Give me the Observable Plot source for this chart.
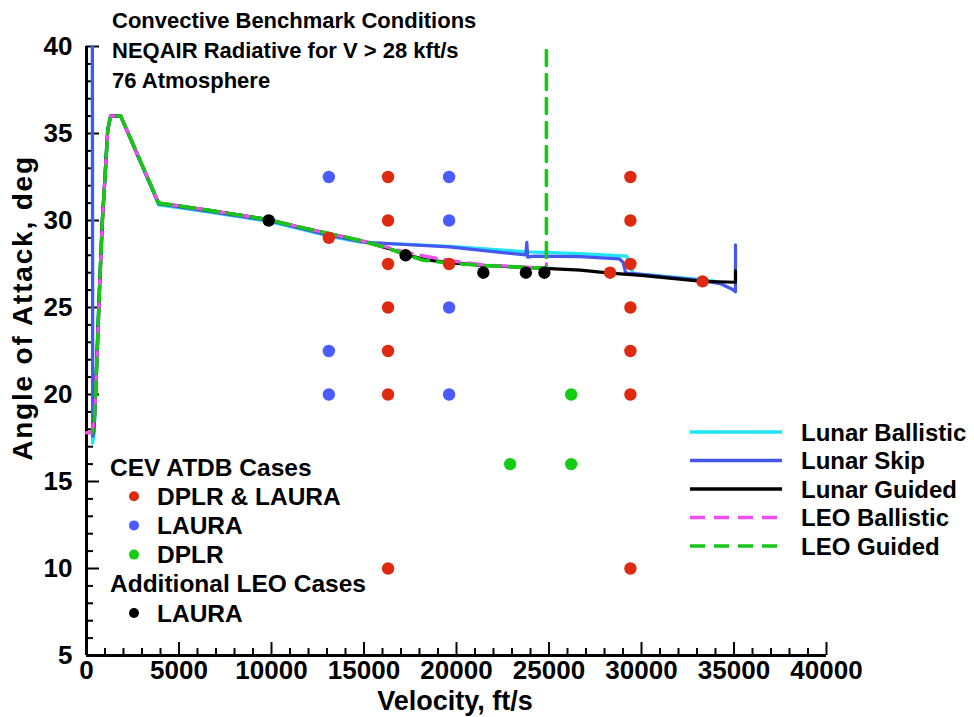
<!DOCTYPE html>
<html><head><meta charset="utf-8">
<script src="https://cdn.jsdelivr.net/npm/d3@7"></script>
<script src="https://cdn.jsdelivr.net/npm/@observablehq/plot@0.6"></script>
<style>
body{margin:0;background:#fff;}
#chart{position:relative;width:974px;height:717px;}
</style></head><body><div id="chart"></div>
<script>
// ---- data (velocity ft/s, angle of attack deg) ----
const lunarBallistic = [[320,40],[330,17.2],[400,17.6],[470,19.5],[580,23],[690,26],[850,30],[1020,33],[1140,35.2],[1300,36],[1850,36],[3900,30.9],[6200,30.55],[9840,29.95],[11600,29.5],[13100,29.1],[14800,28.75],[15800,28.7],[19600,28.52],[23800,28.2],[26700,28.1],[29200,27.95],[29550,26.95],[33300,26.6],[34000,26.5]];
const lunarSkip = [[320,40],[335,17.6],[410,17.9],[480,19.8],[590,23],[700,26],[855,30],[1025,33],[1145,35.2],[1300,36],[1850,36],[3900,30.95],[6200,30.6],[9840,30.0],[11600,29.55],[13100,29.15],[14800,28.8],[15500,28.72],[19600,28.48],[23750,28.02],[23800,28.75],[23850,27.9],[24200,27.95],[26700,27.92],[28800,27.8],[29000,27.6],[29150,26.98],[30000,26.9],[33300,26.55],[34300,26.35],[34900,26.05],[35080,25.9],[35080,28.6]];
const lunarGuided = [[340,17.8],[420,18.5],[490,20],[600,23],[700,26],[860,30],[1030,33],[1150,35.2],[1300,36],[1850,36],[3900,31],[6200,30.65],[9840,30.05],[11600,29.6],[13100,29.25],[14800,28.85],[16300,28.4],[17250,28.05],[18300,27.75],[19600,27.58],[21450,27.42],[23750,27.3],[24750,27.25],[26700,27.15],[28300,26.98],[30000,26.85],[33300,26.5],[35080,26.45],[35080,27.1]];
const leoBallistic = [[0,17.8],[300,17.8],[420,18.5],[490,20],[600,23],[700,26],[860,30],[1030,33],[1150,35.2],[1300,36],[1850,36],[3900,31],[6200,30.65],[9840,30.05],[11600,29.6],[13100,29.25],[14800,28.85],[16300,28.45],[17300,28.15],[18300,27.95],[19600,27.7],[21450,27.45],[23750,27.32],[24800,27.25],[24860,27.1],[24860,27.6]];
const leoGuided = [[330,17.8],[420,18.5],[490,20],[600,23],[700,26],[860,30],[1030,33],[1150,35.2],[1300,36],[1850,36],[3900,31],[6200,30.65],[9840,30.05],[11600,29.6],[13100,29.25],[14800,28.85],[16300,28.4],[17250,28.05],[18200,27.72],[19600,27.55],[21450,27.42],[23750,27.3],[24860,27.25],[24860,40]];

const dplrLauraV = [16300,16300,16300,16300,16300,16300,16300,29400,29400,29400,29400,29400,29400,29400,13100,19600,28300,33300];
const dplrLauraA = [32.5,30,27.5,25,22.5,20,10,32.5,30,27.5,25,22.5,20,10,29,27.5,27,26.5];
const lauraV = [13100,13100,13100,19600,19600,19600,19600];
const lauraA = [32.5,22.5,20,32.5,30,25,20];
const dplrV = [26200,26200,22900];
const dplrA = [20,16,16];
const leoLauraV = [9850,17250,21450,23750,24750];
const leoLauraA = [30,28,27,27,27];

const xMajor = [0,5000,10000,15000,20000,25000,30000,35000,40000];
const xMinor = d3.range(0,40001,1000).filter(v => v % 5000 !== 0);
const yMajor = [5,10,15,20,25,30,35,40];
const yMinor = d3.range(5,41,1).filter(v => v % 5 !== 0);

const titleLines = ["Convective Benchmark Conditions","NEQAIR Radiative for V > 28 kft/s","76 Atmosphere"];
const lineSeries = [
  {name:"Lunar Ballistic", color:"#1fe6f4", dash:null, w:3.2},
  {name:"Lunar Skip", color:"#4656f0", dash:null, w:3.2},
  {name:"Lunar Guided", color:"#000000", dash:null, w:3.2},
  {name:"LEO Ballistic", color:"#f04ef0", dash:"15,9", w:3.4},
  {name:"LEO Guided", color:"#17c617", dash:"15,9", w:3.6}
];
const pointGroups = [
  {head:"CEV ATDB Cases"},
  {name:"DPLR & LAURA", color:"#dd2a10"},
  {name:"LAURA", color:"#4a5cff"},
  {name:"DPLR", color:"#14cc14"},
  {head:"Additional LEO Cases"},
  {name:"LAURA", color:"#000000"}
];

const FONT = "'Liberation Sans', Arial, Helvetica, sans-serif";
const NARROW = "'Liberation Sans Narrow', 'Liberation Sans', Arial, sans-serif";

const pts = (V, A) => V.map((v, i) => ({v, a: A[i]}));
const ln = (data, s, extra = {}) => Plot.line(data, {x: d => d[0], y: d => d[1], stroke: s.color, strokeWidth: s.w, strokeDasharray: s.dash, ...extra});

const chart = Plot.plot({
  width: 974, height: 717,
  marginLeft: 86, marginRight: 148, marginTop: 46, marginBottom: 62,
  style: {fontFamily: FONT, fontWeight: "bold", background: "white", color: "black", overflow: "visible"},
  x: {domain: [0, 40000], label: null},
  y: {domain: [5, 40], label: null},
  marks: [
    Plot.axisX({ticks: xMajor, tickSize: -13, tickPadding: 18, tickFormat: d => String(d), fontSize: 26, strokeWidth: 2, label: null}),
    Plot.axisX({ticks: xMinor, tickSize: -7, fill: "none", strokeWidth: 2, label: null}),
    Plot.axisY({ticks: yMajor, tickSize: -13, tickPadding: 27, tickFormat: d => String(d), fontSize: 26, strokeWidth: 2, label: null}),
    Plot.axisY({ticks: yMinor, tickSize: -7, fill: "none", strokeWidth: 2, label: null}),
    Plot.ruleX([0], {strokeWidth: 3}),
    Plot.ruleY([5], {strokeWidth: 3}),
    ln(lunarBallistic, lineSeries[0]),
    ln(lunarSkip, lineSeries[1]),
    ln(lunarGuided, lineSeries[2]),
    ln(leoBallistic, lineSeries[3]),
    ln(leoGuided, lineSeries[4], {strokeDashoffset: 12}),
    Plot.dot(pts(dplrLauraV, dplrLauraA), {x: "v", y: "a", r: 6.2, fill: pointGroups[1].color}),
    Plot.dot(pts(lauraV, lauraA), {x: "v", y: "a", r: 6.2, fill: pointGroups[2].color}),
    Plot.dot(pts(dplrV, dplrA), {x: "v", y: "a", r: 6.2, fill: pointGroups[3].color}),
    Plot.dot(pts(leoLauraV, leoLauraA), {x: "v", y: "a", r: 6.2, fill: pointGroups[5].color})
  ]
});
document.getElementById("chart").appendChild(chart);

const svg = d3.select(chart);
svg.selectAll('g[aria-label="x-axis tick label"], g[aria-label="y-axis tick label"]').attr("font-family", NARROW).attr("font-weight", "bold");

function txt(x, y, s, size, anchor = "start", rotate = 0, spacing = 0) {
  const t = svg.append("text").attr("x", x).attr("y", y).attr("font-family", FONT).attr("font-weight", "bold")
    .attr("font-size", size).attr("fill", "black").attr("text-anchor", anchor).text(s);
  if (spacing) t.attr("letter-spacing", spacing);
  if (rotate) t.attr("transform", `rotate(${rotate},${x},${y})`);
  return t;
}
// titles
titleLines.forEach((s, i) => txt(112, 28 + i * 30, s, 22));
// axis titles
txt(455, 710, "Velocity, ft/s", 27, "middle");
txt(32, 308, "Angle of Attack, deg", 28, "middle", -90, 1.8);
// right legend
lineSeries.forEach((s, i) => {
  const y = 432 + i * 28.5;
  const l = svg.append("line").attr("x1", 690).attr("x2", 782).attr("y1", y).attr("y2", y)
    .attr("stroke", s.color).attr("stroke-width", 3.5);
  if (s.dash) l.attr("stroke-dasharray", s.dash);
  txt(801, y + 8.5, s.name, 24);
});
// left legend
pointGroups.forEach((g, i) => {
  const y = 467 + i * 29.2;
  if (g.head) { txt(110, y + 8.5, g.head, 24.5); }
  else {
    svg.append("circle").attr("cx", 134).attr("cy", y).attr("r", 5).attr("fill", g.color);
    txt(157, y + 8.5, g.name, 24.5);
  }
});
</script></body></html>
